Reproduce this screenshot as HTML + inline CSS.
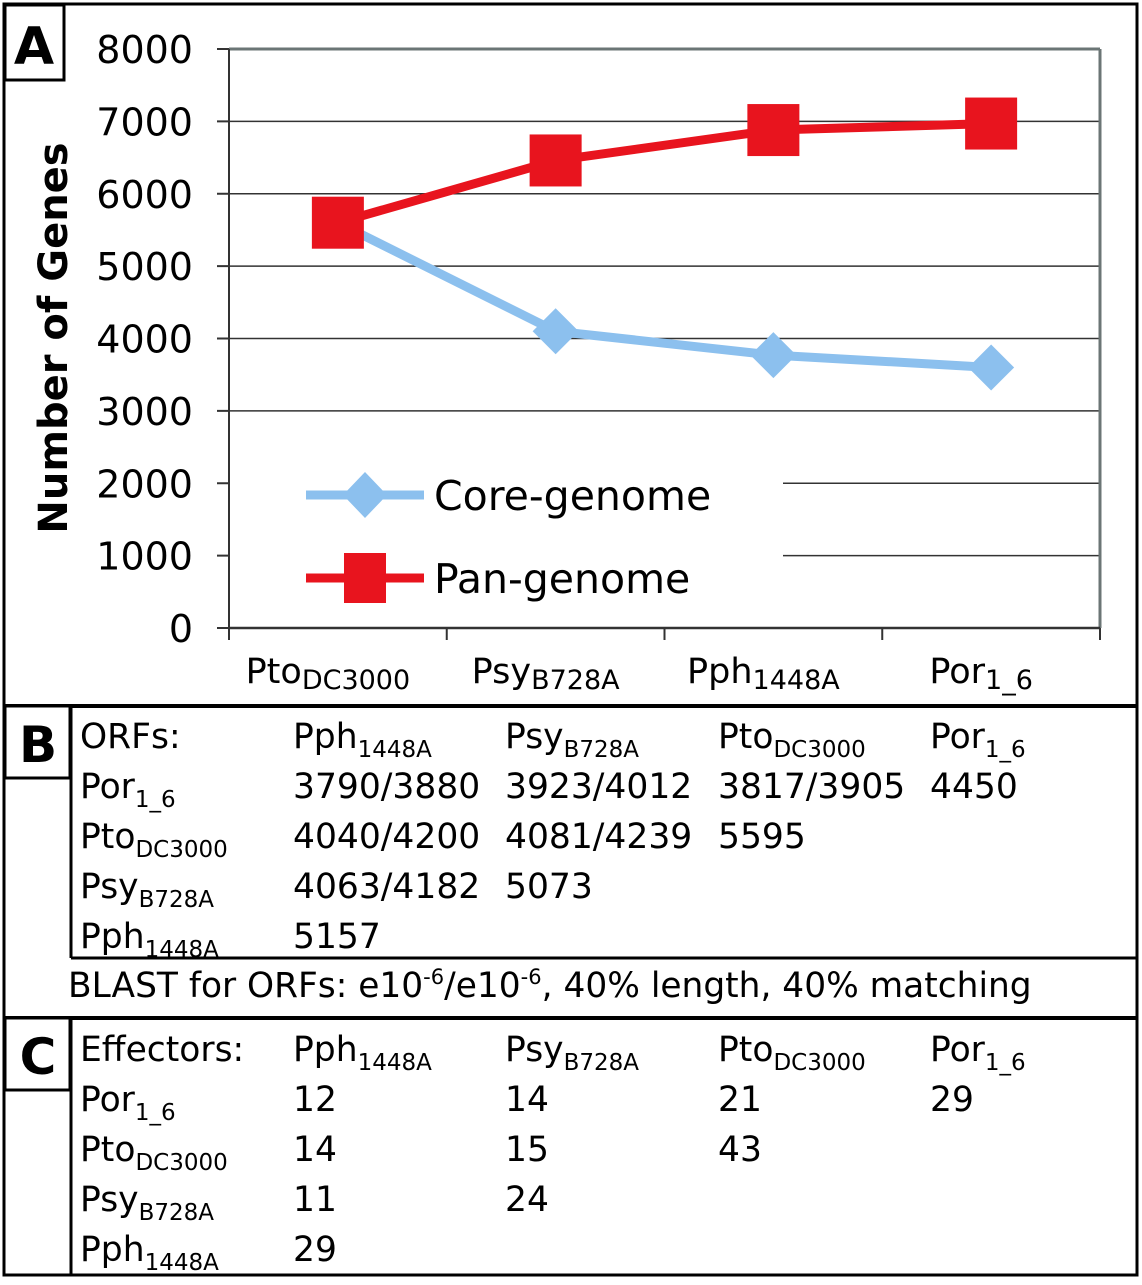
<!DOCTYPE html>
<html><head><meta charset="utf-8"><style>
body{margin:0;background:#fff;}
svg text{font-family:"DejaVu Sans","Liberation Sans",sans-serif;fill:#000;}
</style></head><body>
<svg id="fig" width="1142" height="1280" viewBox="0 0 1142 1280">
<rect x="4" y="4" width="1133" height="1271" fill="none" stroke="#000" stroke-width="3"/>
<rect x="5" y="5" width="59" height="75" fill="#fff" stroke="#000" stroke-width="3"/>
<text x="34" y="64" font-size="52" font-weight="bold" text-anchor="middle" font-family="Liberation Sans">A</text>
<g id="chart"></g>
<text transform="translate(67,338) rotate(-90)" font-size="40" font-weight="bold" text-anchor="middle">Number of Genes</text>

<line x1="4" y1="706" x2="1137" y2="706" stroke="#000" stroke-width="4"/>
<rect x="5" y="706" width="65" height="72" fill="#fff" stroke="#000" stroke-width="3"/>
<text x="38" y="762" font-size="50" font-weight="bold" text-anchor="middle" font-family="Liberation Sans">B</text>
<line x1="71" y1="706" x2="71" y2="958" stroke="#000" stroke-width="3"/>
<line x1="71" y1="958" x2="1137" y2="958" stroke="#000" stroke-width="3"/>
<text x="68" y="997" font-size="34.4">BLAST for ORFs: e10<tspan font-size="21" dy="-13">-6</tspan><tspan dy="13">/e10</tspan><tspan font-size="21" dy="-13">-6</tspan><tspan dy="13">, 40% length, 40% matching</tspan></text>
<line x1="4" y1="1018" x2="1137" y2="1018" stroke="#000" stroke-width="4"/>
<rect x="5" y="1018" width="65" height="72" fill="#fff" stroke="#000" stroke-width="3"/>
<text x="38" y="1074" font-size="50" font-weight="bold" text-anchor="middle" font-family="Liberation Sans">C</text>
<line x1="71" y1="1018" x2="71" y2="1275" stroke="#000" stroke-width="3"/>
<g id="tables"></g>
</svg>
<script>
const categories=[["Pto","DC3000"],["Psy","B728A"],["Pph","1448A"],["Por","1_6"]];
const coreValues=[5600,4100,3770,3600];
const panValues=[5600,6460,6880,6970];
const yTicks=[0,1000,2000,3000,4000,5000,6000,7000,8000];
const NS="http://www.w3.org/2000/svg";
const X0=229,X1=1100,Y0=628,Y1=49,YMAX=8000;
const y=v=>Y0-(v/YMAX)*(Y0-Y1);
const bw=(X1-X0)/categories.length;
const x=i=>X0+bw*(i+0.5);
const chart=document.getElementById('chart');
function mk(t,a,p){const e=document.createElementNS(NS,t);for(const k in a)e.setAttribute(k,a[k]);(p||chart).appendChild(e);return e;}
yTicks.forEach(v=>{
  if(v>0){
    let gl;
    if(v<=2000){gl=mk('line',{x1:783,x2:X1,y1:y(v),y2:y(v),stroke:'#333','stroke-width':1.5});}
    else gl=mk('line',{x1:X0,x2:X1,y1:y(v),y2:y(v),stroke:v===8000?'#6b7575':'#333','stroke-width':v===8000?3:1.5});
    
    
  }
  const tk=mk('line',{x1:X0-12,x2:X0,y1:y(v),y2:y(v),stroke:'#333','stroke-width':2});
  
  
  const t=mk('text',{x:193,y:y(v)+14,'font-size':38,'text-anchor':'end'});t.textContent=v;
  
  
});
const rb=mk('line',{x1:X1,x2:X1,y1:Y1,y2:Y0,stroke:'#6b7575','stroke-width':3});


const ya=mk('line',{x1:X0,x2:X0,y1:Y1,y2:Y0,stroke:'#333','stroke-width':2});


const xa=mk('line',{x1:X0,x2:X1,y1:Y0,y2:Y0,stroke:'#333','stroke-width':2.5});


for(let i=0;i<=categories.length;i++){
  const t=mk('line',{x1:X0+bw*i,x2:X0+bw*i,y1:Y0,y2:Y0+12,stroke:'#333','stroke-width':2});
  
  
}
categories.forEach((c,i)=>{
  const t=mk('text',{x:x(i)-10,y:683,'font-size':35,'text-anchor':'middle','font-family':'Liberation Sans'});
  
  
  const a=document.createElementNS(NS,'tspan');a.textContent=c[0];t.appendChild(a);
  const b=document.createElementNS(NS,'tspan');b.setAttribute('font-size',27);b.setAttribute('dy',6);b.textContent=c[1];t.appendChild(b);
});
function series(vals,color,marker,name){
  const pl=mk('polyline',{points:vals.map((v,i)=>x(i)+','+y(v)).join(' '),fill:'none',stroke:color,'stroke-width':9,'stroke-linejoin':'round'});
  
  
  vals.forEach((v,i)=>{
    let m;
    if(marker==='d'){const cx=x(i),cy=y(v);m=mk('polygon',{points:`${cx},${cy-23} ${cx+23},${cy} ${cx},${cy+23} ${cx-23},${cy}`,fill:color});}
    else m=mk('rect',{x:x(i)-26,y:y(v)-26,width:52,height:52,fill:color});
    
    
  });
}
series(coreValues,'#8cc0ee','d','core-genome');
series(panValues,'#e8141e','s','pan-genome');
const lg=[['Core-genome','#8cc0ee','d',495],['Pan-genome','#e8141e','s',578]];
lg.forEach(l=>{
  const g=mk('g',{});
  
  
  mk('line',{x1:306,x2:424,y1:l[3],y2:l[3],stroke:l[1],'stroke-width':9},g);
  if(l[2]==='d')mk('polygon',{points:`365,${l[3]-23} 387,${l[3]} 365,${l[3]+23} 343,${l[3]}`,fill:l[1]},g);
  else mk('rect',{x:344,y:l[3]-25,width:42,height:50,fill:l[1]},g);
  const t=mk('text',{x:434,y:l[3]+15,'font-size':41},g);t.textContent=l[0];
});
const tables=document.getElementById('tables');
const colX=[80,293,505,718,930];
const bHeader=[["ORFs:",""],["Pph","1448A"],["Psy","B728A"],["Pto","DC3000"],["Por","1_6"]];
const rowNames=[["Por","1_6"],["Pto","DC3000"],["Psy","B728A"],["Pph","1448A"]];
const orfValues=[["3790/3880","3923/4012","3817/3905","4450"],["4040/4200","4081/4239","5595"],["4063/4182","5073"],["5157"]];
const cHeader=[["Effectors:",""],["Pph","1448A"],["Psy","B728A"],["Pto","DC3000"],["Por","1_6"]];
const effValues=[["12","14","21","29"],["14","15","43"],["11","24"],["29"]];
function cell(px,py,main,sub,name){
  const t=mk('text',{x:px,y:py,'font-size':34.5},tables);
  
  
  const a=document.createElementNS(NS,'tspan');a.textContent=main;t.appendChild(a);
  if(sub){const b=document.createElementNS(NS,'tspan');b.setAttribute('font-size',23);b.setAttribute('dy',9);b.textContent=sub;t.appendChild(b);}
}
function table(top,header,vals,prefix){
  header.forEach((h,i)=>cell(colX[i],top,h[0],h[1],prefix+'-header'));
  rowNames.forEach((r,ri)=>{
    const py=top+50*(ri+1);
    cell(colX[0],py,r[0],r[1],prefix+'-row-label');
    vals[ri].forEach((v,ci)=>cell(colX[ci+1],py,v,'',prefix+'-cell'));
  });
}
table(748,bHeader,orfValues,'orf');
table(1061,cHeader,effValues,'effector');
</script>
</body></html>
